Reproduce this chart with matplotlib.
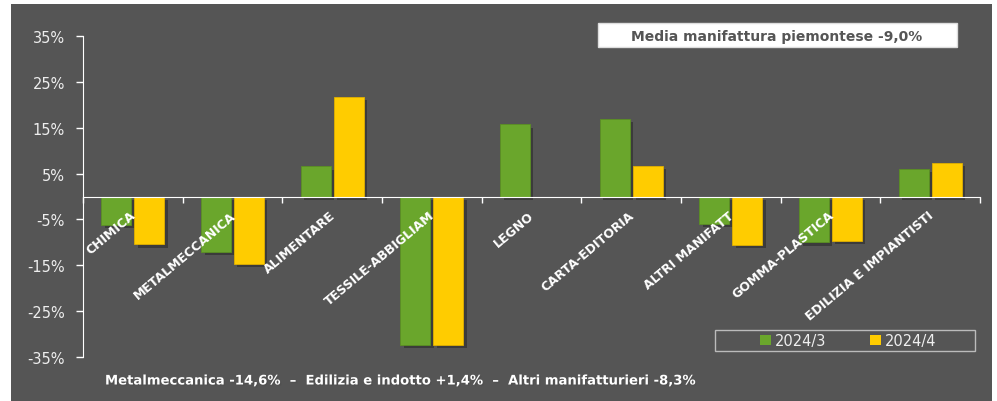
import matplotlib.pyplot as plt
import matplotlib.patheffects as pe
from matplotlib.patches import Rectangle, Patch
import numpy as np

# Settori e variazioni percentuali
settori = ['CHIMICA', 'METALMECCANICA', 'ALIMENTARE', 'TESSILE-ABBIGLIAM', 'LEGNO',
           'CARTA-EDITORIA', 'ALTRI MANIFATT', 'GOMMA-PLASTICA', 'EDILIZIA E IMPIANTISTI']
trim_3 = [-6.2, -12.0, 6.6, -32.3, 15.8, 16.9, -6.0, -10.0, 6.0]
trim_4 = [-10.4, -14.7, 21.8, -32.3, 0.0, 6.7, -10.5, -9.6, 7.3]
serie = ['2024/3', '2024/4']
y_ticks = [35, 25, 15, 5, -5, -15, -25, -35]

nota_media = 'Media manifattura piemontese -9,0%'
nota_sotto = 'Metalmeccanica -14,6%  \u2013  Edilizia e indotto +1,4%  \u2013  Altri manifatturieri -8,3%'

sfondo = '#555555'
verde = '#6aa62c'
giallo = '#ffcc00'

plt.rcParams['font.family'] = ['DejaVu Sans']

W, H = 997, 402
fig = plt.figure(figsize=(W / 100, H / 100), dpi=100, facecolor='white')

# pannello scuro
fig.patches.append(Rectangle((11 / W, 0), 981 / W, 397 / H, transform=fig.transFigure,
                             facecolor=sfondo, edgecolor='none', zorder=-10))

ax = fig.add_axes([83 / W, 44 / H, 897 / W, 321 / H])
ax.set_facecolor('none')

x = np.arange(len(settori))
w = 0.3
ombra = [pe.SimplePatchShadow(offset=(2.5, -2.5), shadow_rgbFace='black', alpha=0.3), pe.Normal()]
b1 = ax.bar(x - 0.165, trim_3, w, color=verde, edgecolor='#5b9023', linewidth=0.6, zorder=3)
b2 = ax.bar(x + 0.165, trim_4, w, color=giallo, edgecolor='#e0b000', linewidth=0.6, zorder=3)
for b in list(b1) + list(b2):
    b.set_path_effects(ombra)

ax.set_xlim(-0.5, len(settori) - 0.5)
ax.set_ylim(-35, 35)

for s in ['top', 'right']:
    ax.spines[s].set_visible(False)
ax.spines['left'].set_color('white')
ax.spines['bottom'].set_color('white')
ax.spines['bottom'].set_position(('data', 0))
ax.spines['bottom'].set_zorder(4)

ax.set_yticks(y_ticks)
ax.set_yticklabels([f'{v}%' for v in y_ticks], color='#eeeeee', fontsize=10.5)
ax.tick_params(axis='y', colors='white', length=5, width=1, pad=8, labelcolor='#eeeeee')

ax.set_xticks([])
ax.set_xticks(np.arange(-0.5, len(settori)), minor=True)
ax.tick_params(axis='x', which='minor', colors='white', length=4, width=1, direction='out')

# etichette dei settori lungo l'asse dello zero
for i, s in enumerate(settori):
    ax.text(i - 0.03, -2.6, s, rotation=40, rotation_mode='anchor', ha='right', va='top',
            color='white', fontsize=9, fontweight='bold', zorder=5)

# riquadro con la media
fig.patches.append(Rectangle((598 / W, 1 - 48 / H), 359 / W, 24 / H, transform=fig.transFigure,
                             facecolor='white', edgecolor='#dddddd', linewidth=1, zorder=2,
                             path_effects=[pe.SimplePatchShadow(offset=(1.5, -1.5), alpha=0.4), pe.Normal()]))
fig.text(777 / W, 1 - 37 / H, nota_media, ha='center', va='center', color='#555555',
         fontsize=10, fontweight='bold', zorder=3)

# legenda
fig.patches.append(Rectangle((715 / W, 1 - 352 / H), 260 / W, 21 / H, transform=fig.transFigure,
                             facecolor='none', edgecolor='#bbbbbb', linewidth=1, zorder=2))
handles = [Patch(facecolor=verde, edgecolor='none'), Patch(facecolor=giallo, edgecolor='none')]
fig.legend(handles, serie, loc='center', bbox_to_anchor=(848 / W, 1 - 341.5 / H),
           ncol=2, frameon=False, handlelength=0.75, handleheight=0.75, handletextpad=0.25,
           columnspacing=3.0, labelcolor='#eeeeee', prop={'size': 10.5})

fig.text(105 / W, 1 - 382 / H, nota_sotto, ha='left', va='center', color='white',
         fontsize=9.5, fontweight='bold',
         path_effects=[pe.withSimplePatchShadow(offset=(1, -1), alpha=0.5)])

fig.savefig('out.png', dpi=100, facecolor='white')
